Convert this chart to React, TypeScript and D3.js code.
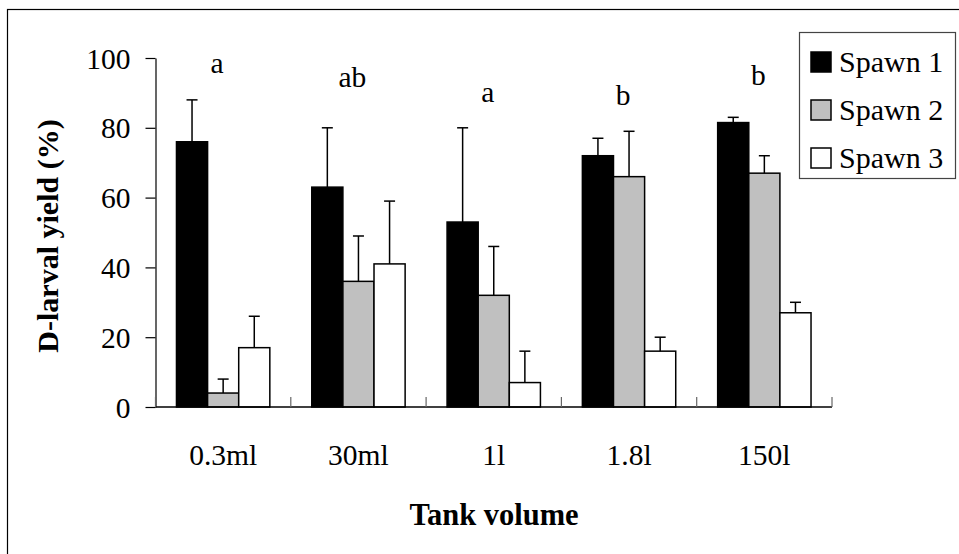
import React, { useEffect, useRef } from 'react';
import * as d3 from 'd3';

// tank volumes on the x axis
const categories = ['0.3ml', '30ml', '1l', '1.8l', '150l'];
const seriesNames = ['Spawn 1', 'Spawn 2', 'Spawn 3'];
const seriesColors = ['#000000', '#c0c0c0', '#ffffff'];

// mean D-larval yield (%) per spawn
const spawn1 = [76, 63, 53, 72, 81.5];
const spawn2 = [4, 36, 32, 66, 67];
const spawn3 = [17, 41, 7, 16, 27];

// top of the error bars
const spawn1Err = [88, 80, 80, 77, 83];
const spawn2Err = [8, 49, 46, 79, 72];
const spawn3Err = [26, 59, 16, 20, 30];

// significance letters and their height (in % units)
const groupLetters = ['a', 'ab', 'a', 'b', 'b'];
const letterLevels = [95.7, 91.7, 87.5, 86.5, 92.3];

const yTicks = [0, 20, 40, 60, 80, 100];

const FONT = '"Liberation Serif", "Times New Roman", serif';

export default function App() {
    const ref = useRef<SVGSVGElement>(null);

    useEffect(() => {
        const svg = d3.select(ref.current);
        svg.selectAll('*').remove();

        const left = 155.5, right = 832, top = 58, bottom = 407;

        const x = d3.scaleBand<string>()
            .domain(categories)
            .range([left, right])
            .paddingInner(0)
            .paddingOuter(0);

        const inner = d3.scaleBand<string>()
            .domain(seriesNames)
            .range([0, x.bandwidth() * 0.69])
            .padding(0);

        const y = d3.scaleLinear().domain([0, 100]).range([bottom, top]);

        // outer frame
        svg.append('rect')
            .attr('x', 7.5).attr('y', 9.5)
            .attr('width', 1000).attr('height', 600)
            .attr('fill', 'none').attr('stroke', '#000').attr('stroke-width', 1.2);

        const values = [spawn1, spawn2, spawn3];
        const errs = [spawn1Err, spawn2Err, spawn3Err];
        const offset = (x.bandwidth() - x.bandwidth() * 0.69) / 2;

        // bars
        seriesNames.forEach((s, si) => {
            const g = svg.append('g');
            g.selectAll('rect')
                .data(categories)
                .enter()
                .append('rect')
                .attr('x', (c) => (x(c) as number) + offset + (inner(s) as number))
                .attr('y', (c, i) => y(values[si][i]))
                .attr('width', inner.bandwidth())
                .attr('height', (c, i) => bottom - y(values[si][i]))
                .attr('fill', seriesColors[si])
                .attr('stroke', '#000')
                .attr('stroke-width', 1.5);

            // error bars
            categories.forEach((c, i) => {
                const cx = (x(c) as number) + offset + (inner(s) as number) + inner.bandwidth() / 2;
                g.append('line')
                    .attr('x1', cx).attr('x2', cx)
                    .attr('y1', y(values[si][i])).attr('y2', y(errs[si][i]))
                    .attr('stroke', '#000').attr('stroke-width', 1.5);
                g.append('line')
                    .attr('x1', cx - 5.5).attr('x2', cx + 5.5)
                    .attr('y1', y(errs[si][i])).attr('y2', y(errs[si][i]))
                    .attr('stroke', '#000').attr('stroke-width', 1.5);
            });
        });

        // y axis
        const yAxis = svg.append('g')
            .attr('transform', 'translate(' + left + ',0)')
            .call(d3.axisLeft(y).tickValues(yTicks).tickSize(10).tickSizeOuter(0).tickPadding(15));
        yAxis.select('.domain').attr('stroke', '#000').attr('stroke-width', 1.2);
        yAxis.selectAll('.tick line').attr('stroke', '#000').attr('stroke-width', 1.2);
        yAxis.selectAll('.tick text')
            .attr('font-family', FONT).attr('font-size', 29.5).attr('fill', '#000')
            .attr('dy', '0.34em');

        // x axis line + boundary ticks pointing up
        svg.append('line')
            .attr('x1', left).attr('x2', right)
            .attr('y1', bottom).attr('y2', bottom)
            .attr('stroke', '#000').attr('stroke-width', 1.5);
        const bounds = categories.map((c) => x(c) as number).concat([right]);
        svg.selectAll('.xtick')
            .data(bounds)
            .enter()
            .append('line')
            .attr('x1', (d) => d).attr('x2', (d) => d)
            .attr('y1', bottom).attr('y2', bottom - 10)
            .attr('stroke', '#666').attr('stroke-width', 1.2);

        svg.selectAll('.xlabel')
            .data(categories)
            .enter()
            .append('text')
            .attr('x', (c) => (x(c) as number) + x.bandwidth() / 2)
            .attr('y', 465)
            .attr('text-anchor', 'middle')
            .attr('font-family', FONT).attr('font-size', 29.5)
            .text((c) => c);

        // letters
        svg.selectAll('.letter')
            .data(categories)
            .enter()
            .append('text')
            .attr('x', (c) => (x(c) as number) + x.bandwidth() / 2 - 6)
            .attr('y', (c, i) => y(letterLevels[i]))
            .attr('text-anchor', 'middle')
            .attr('font-family', FONT).attr('font-size', 29.5)
            .text((c, i) => groupLetters[i]);

        // axis titles
        svg.append('text')
            .attr('x', 494).attr('y', 525)
            .attr('text-anchor', 'middle')
            .attr('font-family', FONT).attr('font-size', 30.5).attr('font-weight', 'bold')
            .text('Tank volume');
        svg.append('text')
            .attr('transform', 'translate(58,236) rotate(-90)')
            .attr('text-anchor', 'middle')
            .attr('font-family', FONT).attr('font-size', 30).attr('font-weight', 'bold')
            .text('D-larval yield (%)');

        // legend
        const lg = svg.append('g');
        lg.append('rect')
            .attr('x', 799.5).attr('y', 32.5)
            .attr('width', 156).attr('height', 146)
            .attr('fill', '#fff').attr('stroke', '#444').attr('stroke-width', 1.2);
        seriesNames.forEach((s, i) => {
            lg.append('rect')
                .attr('x', 811).attr('y', 52 + i * 48)
                .attr('width', 20).attr('height', 20)
                .attr('fill', seriesColors[i]).attr('stroke', '#000').attr('stroke-width', 1.5);
            lg.append('text')
                .attr('x', 839).attr('y', 72 + i * 48)
                .attr('font-family', FONT).attr('font-size', 30)
                .text(s);
        });
    }, []);

    return (
        <svg ref={ref} width={959} height={554}
             style={{ position: 'absolute', left: 0, top: 0, background: '#fff' }} />
    );
}
